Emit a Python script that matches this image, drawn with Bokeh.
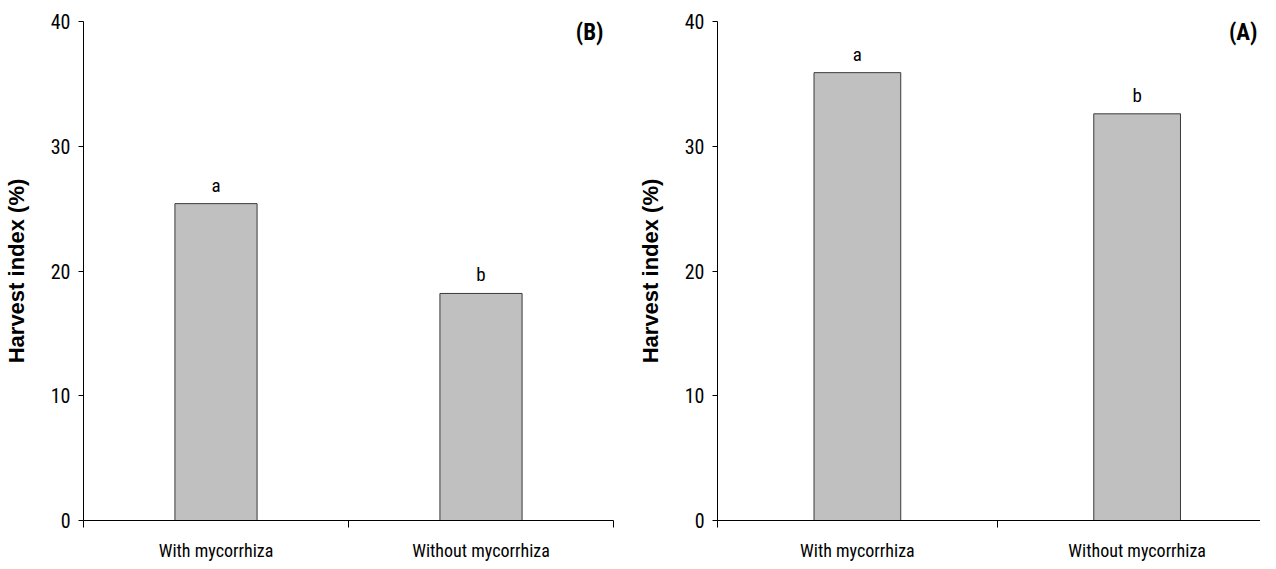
from bokeh.plotting import figure
from bokeh.models import Range1d, FixedTicker, ColumnDataSource, Label
from bokeh.layouts import row
from bokeh.core.properties import value
from bokeh.embed import file_html
from bokeh.resources import INLINE

categories = ["With mycorrhiza", "Without mycorrhiza"]
letters = ["a", "b"]
harvest_B = [25.4, 18.2]
harvest_A = [35.9, 32.6]
y_ticks = [0, 10, 20, 30, 40]

NARROW = "Liberation Sans Narrow, Arial Narrow, Roboto Condensed, sans-serif"
BOLD = "Liberation Sans, Arial, sans-serif"


def make_panel(vals, tag, width, b_left, b_right, x_end, tag_off):
    p = figure(width=width, height=564, x_range=Range1d(0, x_end), y_range=Range1d(0, 40),
               output_backend="svg", toolbar_location=None,
               min_border_left=b_left, min_border_right=b_right,
               min_border_top=21, min_border_bottom=44)
    p.outline_line_color = None
    p.grid.visible = False
    p.background_fill_color = "white"
    p.border_fill_color = "white"

    xs = [i + 0.5 for i in range(len(categories))]
    src = ColumnDataSource(dict(x=xs, top=vals, cat=categories, letter=letters))
    p.vbar(x="x", top="top", bottom=0, width=0.31, source=src,
           fill_color="#C0C0C0", line_color="#3a3a3a", line_width=1)
    p.text(x="x", y="top", text="letter", source=src, text_align="center",
           text_baseline="bottom", y_offset=-7, text_font=value(NARROW),
           text_font_size="19px", text_color="black")

    xa = p.xaxis[0]
    xa.ticker = FixedTicker(ticks=xs, minor_ticks=[float(i) for i in range(len(categories) + 1)])
    xa.major_label_overrides = {x: c for x, c in zip(xs, categories)}
    xa.major_tick_in = 0
    xa.major_tick_out = 0
    xa.minor_tick_in = 0
    xa.minor_tick_out = 7
    xa.minor_tick_line_color = "black"
    xa.axis_line_color = "black"
    xa.major_label_standoff = 12
    xa.major_label_text_font = NARROW
    xa.major_label_text_font_size = "18px"
    xa.major_label_text_color = "black"

    ya = p.yaxis[0]
    ya.ticker = FixedTicker(ticks=y_ticks)
    ya.major_tick_in = 0
    ya.major_tick_out = 5
    ya.minor_tick_line_color = None
    ya.axis_line_color = "black"
    ya.major_tick_line_color = "black"
    ya.major_label_standoff = 8
    ya.major_label_text_font = NARROW
    ya.major_label_text_font_size = "20px"
    ya.major_label_text_color = "black"
    ya.axis_label = "Harvest index (%)"
    ya.axis_label_text_font = BOLD
    ya.axis_label_text_font_style = "bold"
    ya.axis_label_text_font_size = "22px"
    ya.axis_label_text_color = "black"
    ya.axis_label_standoff = 19

    p.add_layout(Label(x=x_end, y=40, x_offset=tag_off, y_offset=3, text=tag, text_align="right",
                       text_baseline="top", text_font=NARROW, text_font_style="bold",
                       text_font_size="23px", text_color="black"))
    return p


pB = make_panel(harvest_B, "(B)", 634, 70, 21, 2.0, -10)
pA = make_panel(harvest_A, "(A)", 626, 70, 0, 1.941, -3)

layout = row(pB, pA)
open("out.html", "w").write(file_html(layout, INLINE))
